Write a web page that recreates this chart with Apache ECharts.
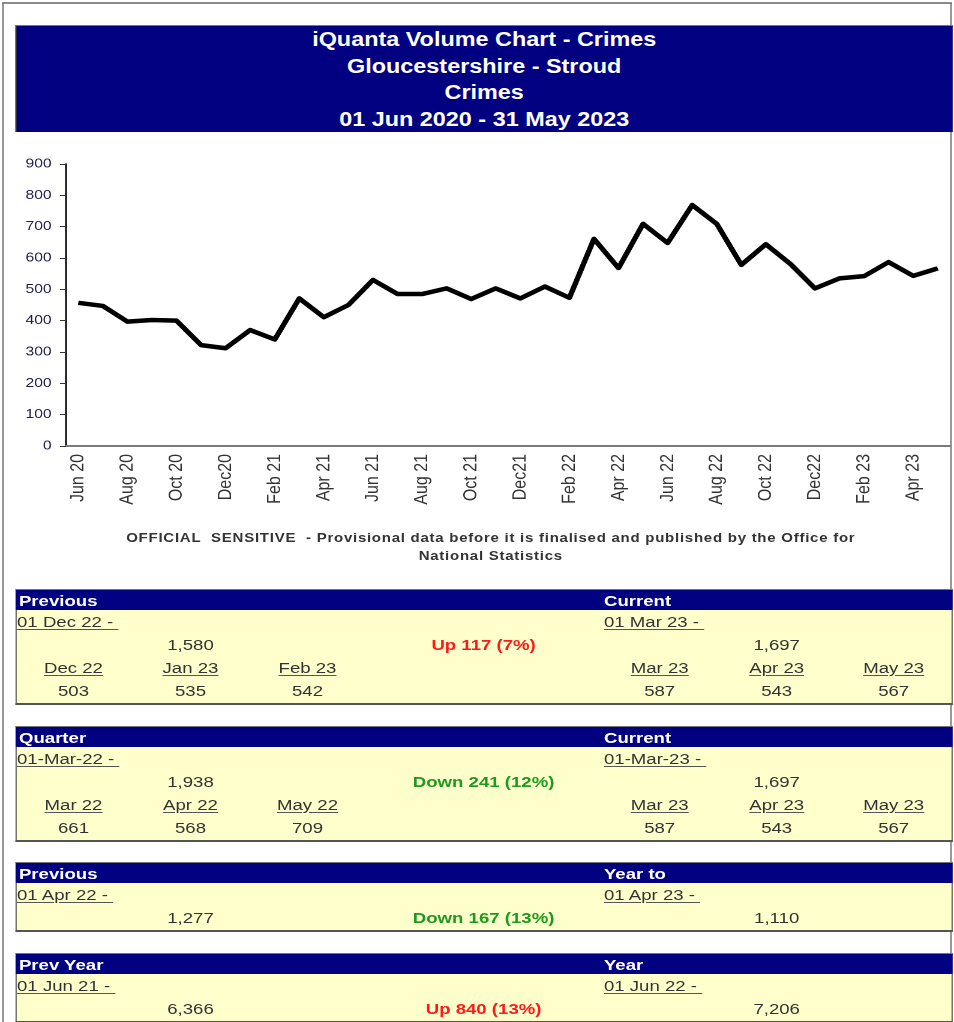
<!DOCTYPE html>
<html>
<head>
<meta charset="utf-8">
<title>iQuanta Volume Chart - Crimes</title>
<script src="https://cdn.jsdelivr.net/npm/echarts@6/dist/echarts.min.js"></script>
<style>
    html, body { margin: 0; padding: 0; background: #fff; }
    body { width: 954px; height: 1022px; overflow: hidden; position: relative; font-family: 'Liberation Sans', Arial, sans-serif; }
    /* the source picture is stretched ~1.2x horizontally, so lay out at 795px and stretch */
    #page { position: absolute; left: 0; top: 0; width: 795px; height: 1022px; transform: scaleX(1.2); transform-origin: 0 0; }
    .abs { position: absolute; }
    #frame { left: 1.5px; top: 1.5px; width: 791px; height: 1040px; border: 1px solid #555; border-top: 2px solid #8a8a8a; box-sizing: border-box; }
    #band { left: 12.5px; top: 25px; width: 781px; height: 107px; background: #000080; border-top: 1px solid #777; border-left: 1px solid #333; box-sizing: border-box;
        color: #fff; font-weight: bold; font-size: 19.5px; line-height: 26.7px; text-align: center; padding-top: 0; }
    #chart { left: 0; top: 140px; width: 795px; height: 440px; }
    #note { left: 69px; top: 529px; width: 680px; text-align: center; white-space: nowrap; font-weight: bold; font-size: 12.5px; line-height: 18px; letter-spacing: 0.62px; color: #333; }
    .head { background: #000080; color: #fff; font-weight: bold; font-size: 15.5px; height: 21px; line-height: 21px; box-sizing: border-box; border-top: 1px solid #777; }
    .body { background: #ffffcc; border: 1px solid #555; border-top: none; border-bottom: 2px solid #555; box-sizing: border-box; }
    .cell { height: 23px; line-height: 23px; font-size: 15.5px; color: #333; white-space: nowrap; }
    .u { text-decoration: underline; text-decoration-color: #555; text-underline-offset: 2px; }
</style>
</head>
<body>
<div id="page">
    <div id="frame" class="abs"></div>
    <div id="band" class="abs"></div>
    <div id="chart" class="abs"></div>
    <div id="note" class="abs"></div>
    <div id="tables"></div>
</div>
<script>
const titleLines = ['iQuanta Volume Chart - Crimes', 'Gloucestershire - Stroud', 'Crimes', '01 Jun 2020 - 31 May 2023']
const noteText = 'OFFICIAL&nbsp; SENSITIVE&nbsp; - Provisional data before it is finalised and published by the Office for<br>National Statistics'

// monthly crimes, Jun 20 .. May 23
const months = [
    'Jun 20', 'Jul 20', 'Aug 20', 'Sep 20', 'Oct 20', 'Nov 20', 'Dec20', 'Jan 21', 'Feb 21', 'Mar 21', 'Apr 21', 'May 21',
    'Jun 21', 'Jul 21', 'Aug 21', 'Sep 21', 'Oct 21', 'Nov 21', 'Dec21', 'Jan 22', 'Feb 22', 'Mar 22', 'Apr 22', 'May 22',
    'Jun 22', 'Jul 22', 'Aug 22', 'Sep 22', 'Oct 22', 'Nov 22', 'Dec22', 'Jan 23', 'Feb 23', 'Mar 23', 'Apr 23', 'May 23'
]
const crimes = [
    457, 447, 397, 402, 400, 322, 312, 370, 340, 471, 411, 450,
    530, 485, 485, 503, 469, 503, 471, 509, 473, 661, 568, 709,
    648, 769, 709, 578, 644, 581, 503, 535, 542, 587, 543, 567
]
const yTicks = { min: 0, max: 900, step: 100 }

// summary tables: header texts, period labels, [first index, count] of previous and current periods, month names
const tables = [
    { top: 589, head: ['Previous', 'Current'], dates: ['01 Dec 22 -', '01 Mar 23 -'], prev: [30, 3], cur: [33, 3],
      prevMonths: ['Dec 22', 'Jan 23', 'Feb 23'], curMonths: ['Mar 23', 'Apr 23', 'May 23'] },
    { top: 726, head: ['Quarter', 'Current'], dates: ['01-Mar-22 -', '01-Mar-23 -'], prev: [21, 3], cur: [33, 3],
      prevMonths: ['Mar 22', 'Apr 22', 'May 22'], curMonths: ['Mar 23', 'Apr 23', 'May 23'] },
    { top: 862, head: ['Previous', 'Year to'], dates: ['01 Apr 22 -', '01 Apr 23 -'], prev: [22, 2], cur: [34, 2] },
    { top: 953, head: ['Prev Year', 'Year'], dates: ['01 Jun 21 -', '01 Jun 22 -'], prev: [12, 12], cur: [24, 12] },
]

const FONT = "'Liberation Sans', Arial, sans-serif"
const cols = [12.5, 110, 207.5, 305, 501, 598.5, 696, 793.5]

document.getElementById('band').innerHTML = titleLines.map(t => '<div>' + t + '</div>').join('')
document.getElementById('note').innerHTML = noteText

const fmt = n => String(n).replace(/\B(?=(\d{3})+(?!\d))/g, ',')
const sum = (from, n) => crimes.slice(from, from + n).reduce((a, b) => a + b, 0)

function cell(parent, text, col, top, opts = {}) {
    const d = document.createElement('div')
    d.className = 'abs cell'
    const left = cols[col], w = cols[col + 1] - cols[col]
    d.style.top = top + 'px'
    if (opts.align === 'left') {
        d.style.left = (left + (opts.pad || 2)) + 'px'
    } else {
        d.style.left = left + 'px'
        d.style.width = w + 'px'
        d.style.textAlign = 'center'
    }
    if (opts.color) d.style.color = opts.color
    if (opts.bold) d.style.fontWeight = 'bold'
    d.innerHTML = opts.u ? '<span class="u">' + text + '&nbsp;</span>' : text
    parent.appendChild(d)
}

const host = document.getElementById('tables')
tables.forEach(t => {
    const rows = t.prevMonths ? 4 : 2
    const head = document.createElement('div')
    head.className = 'abs head'
    Object.assign(head.style, { left: cols[0] + 'px', top: t.top + 'px', width: (cols[7] - cols[0]) + 'px' })
    head.innerHTML = '<span class="abs" style="left:3.3px">' + t.head[0] + '</span>' +
        '<span class="abs" style="left:' + (cols[4] - cols[0] + 2.3) + 'px">' + t.head[1] + '</span>'
    host.appendChild(head)

    const body = document.createElement('div')
    body.className = 'abs body'
    Object.assign(body.style, { left: cols[0] + 'px', top: (t.top + 21) + 'px', width: (cols[7] - cols[0]) + 'px', height: (rows * 23 + 3) + 'px' })
    host.appendChild(body)

    const y0 = t.top + 21
    cell(host, t.dates[0], 0, y0, { align: 'left', pad: 1.7, u: true })
    cell(host, t.dates[1], 4, y0, { align: 'left', pad: 2.3, u: true })

    const p = sum(t.prev[0], t.prev[1]), c = sum(t.cur[0], t.cur[1])
    const diff = c - p
    const change = (diff >= 0 ? 'Up ' : 'Down ') + Math.abs(diff) + ' (' + Math.round(Math.abs(diff) / p * 100) + '%)'
    cell(host, fmt(p), 1, y0 + 23)
    cell(host, change, 3, y0 + 23, { bold: true, color: diff >= 0 ? '#ff1a1a' : '#1f9a1f' })
    cell(host, fmt(c), 5, y0 + 23)

    if (t.prevMonths) {
        t.prevMonths.forEach((m, i) => {
            cell(host, '<span class="u">' + m + '</span>', i, y0 + 46)
            cell(host, fmt(crimes[t.prev[0] + i]), i, y0 + 69)
        })
        t.curMonths.forEach((m, i) => {
            cell(host, '<span class="u">' + m + '</span>', 4 + i, y0 + 46)
            cell(host, fmt(crimes[t.cur[0] + i]), 4 + i, y0 + 69)
        })
    }
})

const chart = echarts.init(document.getElementById('chart'), null, { renderer: 'canvas', devicePixelRatio: 2 })
chart.setOption({
    animation: false,
    grid: { left: 55, top: 24, width: 736.7, height: 282, containLabel: false },
    xAxis: {
        type: 'category',
        data: months,
        boundaryGap: true,
        axisLine: { lineStyle: { color: '#7a7a7a', width: 2 } },
        axisTick: { interval: 1, length: 5, lineStyle: { color: '#222', width: 1 } },
        axisLabel: { interval: 1, rotate: 90, fontSize: 16, color: '#333', margin: 8, fontFamily: FONT },
        splitLine: { show: false },
    },
    yAxis: {
        type: 'value',
        min: yTicks.min,
        max: yTicks.max,
        interval: yTicks.step,
        axisLine: { show: true, lineStyle: { color: '#000', width: 1.5 } },
        axisTick: { show: true, length: 5, lineStyle: { color: '#333' } },
        axisLabel: { fontSize: 13, color: '#1c1c4c', margin: 12, fontFamily: FONT },
        splitLine: { show: false },
    },
    series: [{
        type: 'line',
        data: crimes,
        symbol: 'none',
        lineStyle: { color: '#000', width: 4.5, join: 'round' },
    }],
})
</script>
</body>
</html>
